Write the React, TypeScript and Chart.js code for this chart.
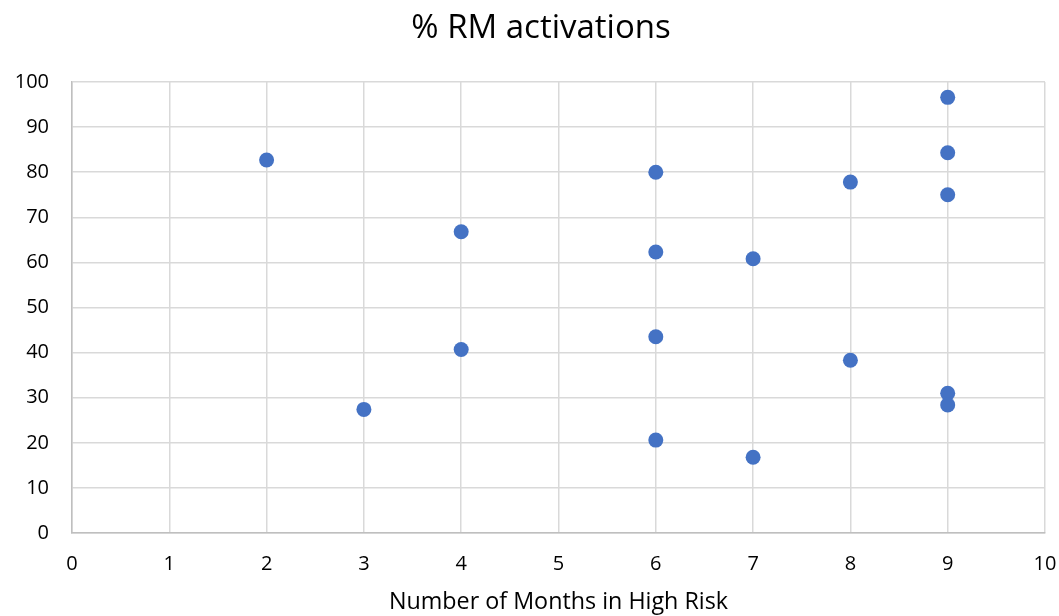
import React, { useEffect, useRef } from "react";
import { Chart, registerables } from "chart.js";

Chart.register(...registerables);

const monthsInHighRisk: number[] = [2, 3, 4, 4, 6, 6, 6, 6, 7, 7, 8, 8, 9, 9, 9, 9, 9];
const rmActivationPct: number[] = [82.7, 27.4, 66.8, 40.7, 80.0, 62.3, 43.5, 20.6, 60.8, 16.8, 77.8, 38.3, 96.6, 84.3, 75.0, 31.0, 28.4];

const chartTitle = "% RM activations";
const xAxisTitle = "Number of Months in High Risk";
const xMin = 0, xMax = 10, xStep = 1;
const yMin = 0, yMax = 100, yStep = 10;

const FONT = "'Open Sans', 'Noto Sans', sans-serif";

const titleShift = {
  id: "titleShift",
  afterLayout(chart: any) {
    if (chart.titleBlock) {
      chart.titleBlock.left = 37;
    }
  },
};

export default function App() {
  const canvasRef = useRef<HTMLCanvasElement | null>(null);

  useEffect(() => {
    document.body.style.margin = "0";
    const canvas = canvasRef.current;
    if (!canvas) return;
    const points = monthsInHighRisk.map((x, i) => ({ x, y: rmActivationPct[i] }));
    const chart = new Chart(canvas, {
      type: "scatter",
      data: {
        datasets: [
          {
            label: chartTitle,
            data: points,
            backgroundColor: "#4472C4",
            borderColor: "#4472C4",
            pointRadius: 7.5,
            pointHoverRadius: 7.5,
            borderWidth: 0,
          },
        ],
      },
      plugins: [titleShift],
      options: {
        animation: false,
        responsive: true,
        maintainAspectRatio: false,
        layout: { padding: { left: 0, right: 14, top: 0, bottom: 0 } },
        plugins: {
          legend: { display: false },
          tooltip: { enabled: false },
          title: {
            display: true,
            text: chartTitle,
            color: "#000000",
            font: { family: FONT, size: 33, weight: "normal" },
            padding: { top: 9, bottom: 33.4 },
          },
        },
        scales: {
          x: {
            type: "linear",
            min: xMin,
            max: xMax,
            afterFit: (scale: any) => {
              scale.height = 83;
              scale.paddingLeft = 0;
              scale.paddingRight = 0;
            },
            ticks: {
              stepSize: xStep,
              color: "#000000",
              font: { family: FONT, size: 20 },
              padding: 19,
            },
            grid: { color: "#d9d9d9", lineWidth: 1.5, drawTicks: false },
            border: { color: "#bfbfbf", width: 1.5 },
            title: {
              display: true,
              text: xAxisTitle,
              color: "#000000",
              font: { family: FONT, size: 23.3 },
              padding: { top: 0, bottom: 0 },
            },
          },
          y: {
            type: "linear",
            min: yMin,
            max: yMax,
            afterFit: (scale: any) => {
              scale.width = 72;
              scale.paddingTop = 0;
              scale.paddingBottom = 0;
            },
            ticks: {
              stepSize: yStep,
              color: "#000000",
              font: { family: FONT, size: 20 },
              padding: 23,
            },
            grid: { color: "#d9d9d9", lineWidth: 1.5, drawTicks: false },
            border: { color: "#bfbfbf", width: 1.5 },
          },
        },
      },
    });
    return () => chart.destroy();
  }, []);

  return (
    <div style={{ position: "relative", width: 1059, height: 616 }}>
      <canvas ref={canvasRef} />
    </div>
  );
}
